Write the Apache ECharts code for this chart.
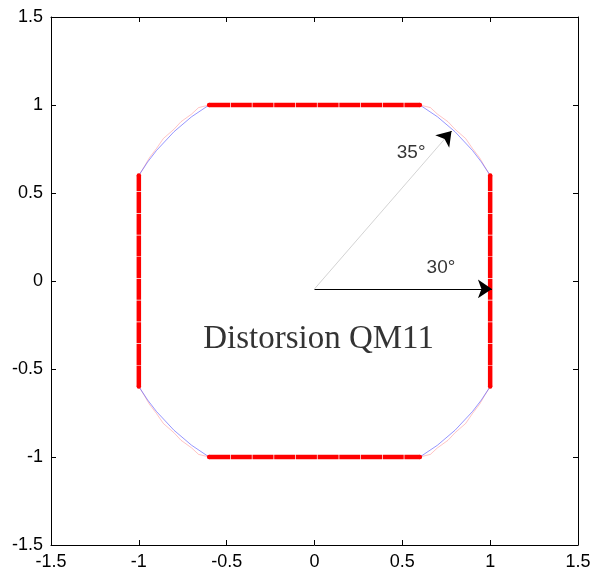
<!DOCTYPE html>
<html>
<head>
<meta charset="utf-8">
<script src="https://cdn.jsdelivr.net/npm/echarts@6/dist/echarts.min.js"></script>
<style>
  html, body { margin: 0; padding: 0; background: #fff; }
  #chart { width: 595px; height: 576px; }
</style>
</head>
<body>
<div id="chart"></div>
<script>
// axis ticks
var ticks = [-1.5, -1, -0.5, 0, 0.5, 1, 1.5];

// straight red edges of the distorted square
var edgeTop = [[-0.6, 1], [0.6, 1]];
var edgeBottom = [[-0.6, -1], [0.6, -1]];
var edgeLeft = [[-1, -0.6], [-1, 0.6]];
var edgeRight = [[1, -0.6], [1, 0.6]];

// blue corner arcs
var arcBlue1 = [[0.6, 1], [0.7, 0.933], [0.8, 0.848], [0.9, 0.741], [0.95, 0.676], [1, 0.6]];
var arcBlue2 = [[-0.6, 1], [-0.7, 0.933], [-0.8, 0.848], [-0.9, 0.741], [-0.95, 0.676], [-1, 0.6]];
var arcBlue3 = [[-0.6, -1], [-0.7, -0.933], [-0.8, -0.848], [-0.9, -0.741], [-0.95, -0.676], [-1, -0.6]];
var arcBlue4 = [[0.6, -1], [0.7, -0.933], [0.8, -0.848], [0.9, -0.741], [0.95, -0.676], [1, -0.6]];

// pink jagged arcs, slightly outside the blue ones
var arcPink1 = [[0.6, 1], [0.66, 0.985], [0.7, 0.948], [0.76, 0.905], [0.8, 0.862], [0.86, 0.81], [0.9, 0.752], [0.94, 0.7], [0.97, 0.648], [1, 0.6]];
var arcPink2 = [[-0.6, 1], [-0.66, 0.985], [-0.7, 0.948], [-0.76, 0.905], [-0.8, 0.862], [-0.86, 0.81], [-0.9, 0.752], [-0.94, 0.7], [-0.97, 0.648], [-1, 0.6]];
var arcPink3 = [[-0.6, -1], [-0.66, -0.985], [-0.7, -0.948], [-0.76, -0.905], [-0.8, -0.862], [-0.86, -0.81], [-0.9, -0.752], [-0.94, -0.7], [-0.97, -0.648], [-1, -0.6]];
var arcPink4 = [[0.6, -1], [0.66, -0.985], [0.7, -0.948], [0.76, -0.905], [0.8, -0.862], [0.86, -0.81], [0.9, -0.752], [0.94, -0.7], [0.97, -0.648], [1, -0.6]];

// arrows
var arrowOrigin = [0, -0.045];
var arrow30End = [1.01, -0.045];
var arrow35End = [0.78, 0.852];
var arrow35Head = [0.772, 0.843];

// labels
var labels = [
  { name: '35°', value: [0.55, 0.727] },
  { name: '30°', value: [0.72, 0.074] }
];
var title = { name: 'Distorsion QM11', value: [0.023, -0.33] };

var chart = echarts.init(document.getElementById('chart'));

function edge(data) {
  return {
    type: 'line', data: data, silent: true, z: 5,
    showSymbol: true, symbol: 'circle', symbolSize: 4.5,
    itemStyle: { color: '#ff0000' },
    lineStyle: { color: '#ff0000', width: 4.5, type: [21, 0.7], cap: 'butt' }
  };
}
function arc(data, color, width) {
  return {
    type: 'line', data: data, showSymbol: false, silent: true, z: 3,
    lineStyle: { color: color, width: width }
  };
}

var axisCommon = {
  type: 'value', min: -1.5, max: 1.5, interval: 0.5,
  axisLine: { onZero: false, lineStyle: { color: '#000', width: 1 } },
  axisTick: { inside: true, length: 5, lineStyle: { color: '#000' } },
  splitLine: { show: false }
};

var textPlain = { textBorderWidth: 0, textShadowBlur: 0, color: '#000' };

var option = {
  animation: false,
  grid: { left: 51, right: 17, top: 17, bottom: 31 },
  xAxis: [
    Object.assign({}, axisCommon, {
      position: 'bottom',
      axisLabel: { color: '#000', fontSize: 18, fontFamily: 'Liberation Sans', margin: 8 }
    }),
    Object.assign({}, axisCommon, { position: 'top', axisLabel: { show: false } })
  ],
  yAxis: [
    Object.assign({}, axisCommon, {
      position: 'left',
      axisLabel: { color: '#000', fontSize: 18, fontFamily: 'Liberation Sans', margin: 8 }
    }),
    Object.assign({}, axisCommon, { position: 'right', axisLabel: { show: false } })
  ],
  series: [
    arc(arcPink1, 'rgba(255,120,120,0.55)', 0.8),
    arc(arcPink2, 'rgba(255,120,120,0.55)', 0.8),
    arc(arcPink3, 'rgba(255,120,120,0.55)', 0.8),
    arc(arcPink4, 'rgba(255,120,120,0.55)', 0.8),
    arc(arcBlue1, 'rgba(90,90,255,0.8)', 0.8),
    arc(arcBlue2, 'rgba(90,90,255,0.8)', 0.8),
    arc(arcBlue3, 'rgba(90,90,255,0.8)', 0.8),
    arc(arcBlue4, 'rgba(90,90,255,0.8)', 0.8),
    edge(edgeTop), edge(edgeBottom), edge(edgeLeft), edge(edgeRight),
    {
      type: 'lines', coordinateSystem: 'cartesian2d', silent: true, z: 6,
      symbol: ['none', 'none'],
      lineStyle: { color: '#c8c8c8', width: 0.8, opacity: 1 },
      data: [{ coords: [arrowOrigin, arrow35End] }]
    },
    {
      type: 'lines', coordinateSystem: 'cartesian2d', silent: true, z: 7,
      symbol: ['none', 'arrow'], symbolSize: [9, 14],
      lineStyle: { color: '#000', width: 1, opacity: 1 },
      data: [
        { coords: [arrowOrigin, arrow30End] },
        { coords: [arrow35Head, arrow35End] }
      ]
    },
    {
      type: 'scatter', symbolSize: 0, silent: true, z: 8,
      data: labels,
      label: Object.assign({
        show: true, position: 'inside', formatter: '{b}',
        fontSize: 19, fontFamily: 'Liberation Sans'
      }, textPlain)
    },
    {
      type: 'scatter', symbolSize: 0, silent: true, z: 8,
      data: [title],
      label: Object.assign({
        show: true, position: 'inside', formatter: '{b}',
        fontSize: 33, fontFamily: 'Liberation Serif'
      }, textPlain)
    }
  ]
};

chart.setOption(option);
</script>
</body>
</html>
